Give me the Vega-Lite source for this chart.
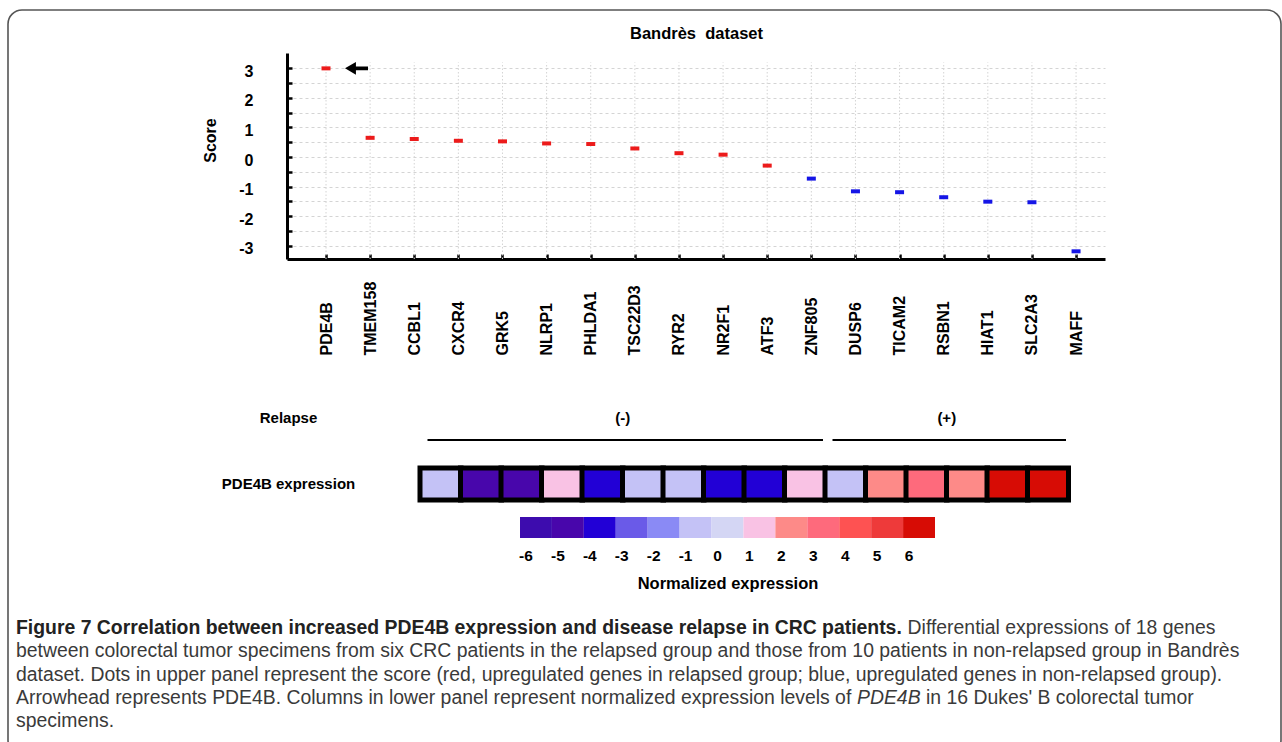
{
  "$schema": "https://vega.github.io/schema/vega-lite/v6.json",
  "width": 1273,
  "height": 744,
  "autosize": {"type": "none"},
  "padding": {"left": 8, "top": 10, "right": 1, "bottom": -12},
  "background": "white",
  "config": {
    "view": {"stroke": "#555555", "strokeWidth": 1.6, "cornerRadius": 14, "fill": "white"},
    "font": "Liberation Sans",
    "axis": {"labelFont": "Liberation Sans", "titleFont": "Liberation Sans", "labelColor": "#000000", "titleColor": "#000000"}
  },
  "datasets": {
    "genes": [
      {"gene": "PDE4B", "score": 3.0, "group": "relapsed"},
      {"gene": "TMEM158", "score": 0.65, "group": "relapsed"},
      {"gene": "CCBL1", "score": 0.61, "group": "relapsed"},
      {"gene": "CXCR4", "score": 0.55, "group": "relapsed"},
      {"gene": "GRK5", "score": 0.53, "group": "relapsed"},
      {"gene": "NLRP1", "score": 0.46, "group": "relapsed"},
      {"gene": "PHLDA1", "score": 0.44, "group": "relapsed"},
      {"gene": "TSC22D3", "score": 0.29, "group": "relapsed"},
      {"gene": "RYR2", "score": 0.13, "group": "relapsed"},
      {"gene": "NR2F1", "score": 0.08, "group": "relapsed"},
      {"gene": "ATF3", "score": -0.29, "group": "relapsed"},
      {"gene": "ZNF805", "score": -0.73, "group": "non-relapsed"},
      {"gene": "DUSP6", "score": -1.16, "group": "non-relapsed"},
      {"gene": "TICAM2", "score": -1.19, "group": "non-relapsed"},
      {"gene": "RSBN1", "score": -1.36, "group": "non-relapsed"},
      {"gene": "HIAT1", "score": -1.51, "group": "non-relapsed"},
      {"gene": "SLC2A3", "score": -1.53, "group": "non-relapsed"},
      {"gene": "MAFF", "score": -3.19, "group": "non-relapsed"}
    ],
    "samples": [
      {"sample": 1, "relapse": "(-)", "expr": -1},
      {"sample": 2, "relapse": "(-)", "expr": -5},
      {"sample": 3, "relapse": "(-)", "expr": -5},
      {"sample": 4, "relapse": "(-)", "expr": 1},
      {"sample": 5, "relapse": "(-)", "expr": -4},
      {"sample": 6, "relapse": "(-)", "expr": -1},
      {"sample": 7, "relapse": "(-)", "expr": -1},
      {"sample": 8, "relapse": "(-)", "expr": -4},
      {"sample": 9, "relapse": "(-)", "expr": -4},
      {"sample": 10, "relapse": "(-)", "expr": 1},
      {"sample": 11, "relapse": "(+)", "expr": -1},
      {"sample": 12, "relapse": "(+)", "expr": 2},
      {"sample": 13, "relapse": "(+)", "expr": 3},
      {"sample": 14, "relapse": "(+)", "expr": 2},
      {"sample": 15, "relapse": "(+)", "expr": 6},
      {"sample": 16, "relapse": "(+)", "expr": 6}
    ],
    "levels": [
      {"level": -6}, {"level": -5}, {"level": -4}, {"level": -3}, {"level": -2}, {"level": -1}, {"level": 0},
      {"level": 1}, {"level": 2}, {"level": 3}, {"level": 4}, {"level": 5}, {"level": 6}
    ],
    "caption": [
      {"line": 1, "part": "bold", "text": "Figure 7 Correlation between increased PDE4B expression and disease relapse in CRC patients."},
      {"line": 1, "part": "cont1", "text": "Differential expressions of 18 genes"},
      {"line": 2, "part": "normal", "text": "between colorectal tumor specimens from six CRC patients in the relapsed group and those from 10 patients in non-relapsed group in Bandrès"},
      {"line": 3, "part": "normal", "text": "dataset. Dots in upper panel represent the score (red, upregulated genes in relapsed group; blue, upregulated genes in non-relapsed group)."},
      {"line": 4, "part": "normal", "text": "Arrowhead represents PDE4B. Columns in lower panel represent normalized expression levels of"},
      {"line": 4, "part": "italic", "text": "PDE4B"},
      {"line": 4, "part": "cont4", "text": "in 16 Dukes' B colorectal tumor"},
      {"line": 5, "part": "normal", "text": "specimens."}
    ]
  },
  "layer": [
    {
      "data": {"name": "genes"},
      "mark": {"type": "rule", "color": "#d4d4d4", "strokeWidth": 1, "strokeDash": [1.5, 2]},
      "encoding": {
        "x": {
          "field": "gene", "type": "nominal", "sort": null,
          "scale": {"type": "point", "domain": ["PDE4B", "TMEM158", "CCBL1", "CXCR4", "GRK5", "NLRP1", "PHLDA1", "TSC22D3", "RYR2", "NR2F1", "ATF3", "ZNF805", "DUSP6", "TICAM2", "RSBN1", "HIAT1", "SLC2A3", "MAFF"], "range": [279, 1097], "padding": 0.77, "align": 0.574},
          "axis": null
        },
        "y": {"datum": -3.45, "type": "quantitative", "scale": {"domain": [-3.45, 3.52], "range": [249, 43], "nice": false, "zero": false}, "axis": null},
        "y2": {"datum": 3.2}
      }
    },
    {
      "data": {"name": "genes"},
      "mark": {"type": "tick", "size": 9, "thickness": 4, "opacity": 1},
      "encoding": {
        "x": {
          "field": "gene", "type": "nominal", "sort": null,
          "scale": {"type": "point", "domain": ["PDE4B", "TMEM158", "CCBL1", "CXCR4", "GRK5", "NLRP1", "PHLDA1", "TSC22D3", "RYR2", "NR2F1", "ATF3", "ZNF805", "DUSP6", "TICAM2", "RSBN1", "HIAT1", "SLC2A3", "MAFF"], "range": [279, 1097], "padding": 0.77, "align": 0.574},
          "axis": {"orient": "bottom", "offset": -495, "title": null, "labelAngle": -90, "labelAlign": "left", "labelBaseline": "middle", "labelPadding": 101, "labelFontSize": 16, "labelFontWeight": "bold", "domainColor": "#000000", "domainWidth": 3, "tickColor": "#000000", "tickSize": -5, "tickWidth": 2.5, "grid": false}
        },
        "y": {
          "field": "score", "type": "quantitative",
          "scale": {"domain": [-3.45, 3.52], "range": [249, 43], "nice": false, "zero": false},
          "axis": {"orient": "left", "offset": -279, "title": "Score", "titleFontSize": 16, "titleFontWeight": "bold", "titlePadding": 20, "titleY": 130, "values": [-3, -2.5, -2, -1.5, -1, -0.5, 0, 0.5, 1, 1.5, 2, 2.5, 3], "labelExpr": "datum.value % 1 === 0 ? '' + datum.value : ''", "labelFontSize": 16, "labelFontWeight": "bold", "labelPadding": 39, "labelOffset": 3, "domainColor": "#000000", "domainWidth": 3, "tickColor": "#000000", "tickSize": -5, "tickWidth": 2.5, "grid": true, "gridColor": "#d4d4d4", "gridDash": [3, 3], "gridWidth": 1}
        },
        "color": {"field": "group", "type": "nominal", "scale": {"domain": ["relapsed", "non-relapsed"], "range": ["#ec1b1b", "#1515e6"]}, "legend": null}
      }
    },
    {
      "data": {"name": "genes"},
      "transform": [{"filter": "datum.gene === 'PDE4B'"}],
      "mark": {"type": "point", "shape": "M -1 0 L -0.05 -0.55 L -0.05 -0.16 L 1 -0.16 L 1 0.16 L -0.05 0.16 L -0.05 0.55 Z", "filled": true, "color": "#000000", "opacity": 1, "size": 529, "xOffset": 30.5},
      "encoding": {
        "x": {
          "field": "gene", "type": "nominal", "sort": null,
          "scale": {"type": "point", "domain": ["PDE4B", "TMEM158", "CCBL1", "CXCR4", "GRK5", "NLRP1", "PHLDA1", "TSC22D3", "RYR2", "NR2F1", "ATF3", "ZNF805", "DUSP6", "TICAM2", "RSBN1", "HIAT1", "SLC2A3", "MAFF"], "range": [279, 1097], "padding": 0.77, "align": 0.574},
          "axis": {"orient": "top", "offset": -43, "title": "Bandrès\u00a0 dataset", "titleFontSize": 16.5, "titleFontWeight": "bold", "titlePadding": 12, "labels": false, "ticks": false, "domain": false, "grid": false}
        },
        "y": {"field": "score", "type": "quantitative", "scale": {"domain": [-3.45, 3.52], "range": [249, 43], "nice": false, "zero": false}, "axis": null}
      }
    },
    {
      "data": {"name": "samples"},
      "mark": {"type": "rect", "stroke": "#000000", "strokeWidth": 5, "xOffset": -20.5, "x2Offset": 20.5},
      "encoding": {
        "x": {"field": "sample", "type": "quantitative", "scale": {"domain": [0.5, 16.5], "range": [412.25, 1060.25], "nice": false, "zero": false}, "axis": null},
        "x2": {"field": "sample"},
        "y": {
          "datum": "PDE4B expression", "type": "nominal",
          "scale": {"type": "band", "domain": ["Relapse", "PDE4B expression"], "range": [392, 490], "paddingInner": 0.515, "paddingOuter": 0},
          "axis": {"orient": "left", "offset": -283, "title": null, "domain": false, "ticks": false, "grid": false, "labelAlign": "center", "labelPadding": 3, "labelFontSize": 15, "labelFontWeight": "bold"}
        },
        "color": {"field": "expr", "type": "ordinal", "scale": {"domain": [-6, -5, -4, -3, -2, -1, 0, 1, 2, 3, 4, 5, 6], "range": ["#3d0cae", "#4806ab", "#2200d6", "#6a5ae8", "#8a8af5", "#c4c2f6", "#d4d6f4", "#f9c2e4", "#fd8a88", "#fe6a7c", "#fe5252", "#ee3a3a", "#d70c05"]}, "legend": null}
      }
    },
    {
      "data": {"name": "samples"},
      "mark": {"type": "rule", "strokeWidth": 2, "color": "#000000", "xOffset": -13, "x2Offset": 18, "yOffset": 22},
      "encoding": {
        "x": {"aggregate": "min", "field": "sample", "type": "quantitative", "scale": {"domain": [0.5, 16.5], "range": [412.25, 1060.25], "nice": false, "zero": false}, "axis": null},
        "x2": {"aggregate": "max", "field": "sample"},
        "y": {"datum": "Relapse", "type": "nominal", "scale": {"type": "band", "domain": ["Relapse", "PDE4B expression"], "range": [392, 490], "paddingInner": 0.515, "paddingOuter": 0}, "axis": null},
        "detail": {"field": "relapse", "type": "nominal"}
      }
    },
    {
      "data": {"name": "samples"},
      "mark": {"type": "text", "font": "Liberation Sans", "fontSize": 15, "fontWeight": "bold", "color": "#000000", "baseline": "middle", "align": "center"},
      "encoding": {
        "x": {"aggregate": "mean", "field": "sample", "type": "quantitative", "scale": {"domain": [0.5, 16.5], "range": [412.25, 1060.25], "nice": false, "zero": false}, "axis": null},
        "y": {"datum": "Relapse", "type": "nominal", "scale": {"type": "band", "domain": ["Relapse", "PDE4B expression"], "range": [392, 490], "paddingInner": 0.515, "paddingOuter": 0}, "axis": null},
        "text": {"field": "relapse", "type": "nominal"}
      }
    },
    {
      "data": {"name": "levels"},
      "mark": {"type": "rect"},
      "encoding": {
        "x": {
          "field": "level", "type": "ordinal",
          "scale": {"type": "band", "domain": [-6, -5, -4, -3, -2, -1, 0, 1, 2, 3, 4, 5, 6], "range": [512, 927], "paddingInner": 0, "paddingOuter": 0},
          "axis": {"orient": "bottom", "offset": -216, "title": "Normalized expression", "titleFontSize": 16.5, "titleFontWeight": "bold", "titlePadding": 12, "labelAngle": 0, "labelFontSize": 15.5, "labelFontWeight": "bold", "labelPadding": 10, "labelOffset": -10, "domain": false, "ticks": false, "grid": false}
        },
        "y": {"datum": "bar", "type": "nominal", "scale": {"type": "band", "domain": ["bar"], "range": [507, 528], "paddingInner": 0, "paddingOuter": 0}, "axis": null},
        "color": {"field": "level", "type": "ordinal", "scale": {"domain": [-6, -5, -4, -3, -2, -1, 0, 1, 2, 3, 4, 5, 6], "range": ["#3d0cae", "#4806ab", "#2200d6", "#6a5ae8", "#8a8af5", "#c4c2f6", "#d4d6f4", "#f9c2e4", "#fd8a88", "#fe6a7c", "#fe5252", "#ee3a3a", "#d70c05"]}, "legend": null}
      }
    },
    {
      "data": {"name": "caption"},
      "transform": [{"filter": "datum.part === 'normal'"}],
      "mark": {"type": "text", "font": "Liberation Sans", "fontSize": 19.4, "color": "#3a3a3a", "align": "left", "baseline": "middle"},
      "encoding": {
        "x": {"datum": 0, "type": "quantitative", "scale": {"domain": [0, 1], "range": [8, 1200]}, "axis": null},
        "y": {"field": "line", "type": "ordinal", "scale": {"type": "point", "domain": [1, 2, 3, 4, 5], "range": [618, 711], "padding": 0}, "axis": null},
        "text": {"field": "text"}
      }
    },
    {
      "data": {"name": "caption"},
      "transform": [{"filter": "datum.part === 'bold'"}],
      "mark": {"type": "text", "font": "Liberation Sans", "fontSize": 19.4, "fontWeight": "bold", "color": "#222222", "align": "left", "baseline": "middle"},
      "encoding": {
        "x": {"datum": 0, "type": "quantitative", "scale": {"domain": [0, 1], "range": [8, 1200]}, "axis": null},
        "y": {"field": "line", "type": "ordinal", "scale": {"type": "point", "domain": [1, 2, 3, 4, 5], "range": [618, 711], "padding": 0}, "axis": null},
        "text": {"field": "text"}
      }
    },
    {
      "data": {"name": "caption"},
      "transform": [{"filter": "datum.part === 'cont1'"}],
      "mark": {"type": "text", "font": "Liberation Sans", "fontSize": 19.4, "color": "#3a3a3a", "align": "left", "baseline": "middle", "dx": 891.6},
      "encoding": {
        "x": {"datum": 0, "type": "quantitative", "scale": {"domain": [0, 1], "range": [8, 1200]}, "axis": null},
        "y": {"field": "line", "type": "ordinal", "scale": {"type": "point", "domain": [1, 2, 3, 4, 5], "range": [618, 711], "padding": 0}, "axis": null},
        "text": {"field": "text"}
      }
    },
    {
      "data": {"name": "caption"},
      "transform": [{"filter": "datum.part === 'italic'"}],
      "mark": {"type": "text", "font": "Liberation Sans", "fontSize": 19.4, "fontStyle": "italic", "color": "#3a3a3a", "align": "left", "baseline": "middle", "dx": 841},
      "encoding": {
        "x": {"datum": 0, "type": "quantitative", "scale": {"domain": [0, 1], "range": [8, 1200]}, "axis": null},
        "y": {"field": "line", "type": "ordinal", "scale": {"type": "point", "domain": [1, 2, 3, 4, 5], "range": [618, 711], "padding": 0}, "axis": null},
        "text": {"field": "text"}
      }
    },
    {
      "data": {"name": "caption"},
      "transform": [{"filter": "datum.part === 'cont4'"}],
      "mark": {"type": "text", "font": "Liberation Sans", "fontSize": 19.4, "color": "#3a3a3a", "align": "left", "baseline": "middle", "dx": 910},
      "encoding": {
        "x": {"datum": 0, "type": "quantitative", "scale": {"domain": [0, 1], "range": [8, 1200]}, "axis": null},
        "y": {"field": "line", "type": "ordinal", "scale": {"type": "point", "domain": [1, 2, 3, 4, 5], "range": [618, 711], "padding": 0}, "axis": null},
        "text": {"field": "text"}
      }
    }
  ],
  "resolve": {
    "scale": {"x": "independent", "y": "independent", "color": "independent"},
    "axis": {"x": "independent", "y": "independent"}
  }
}
